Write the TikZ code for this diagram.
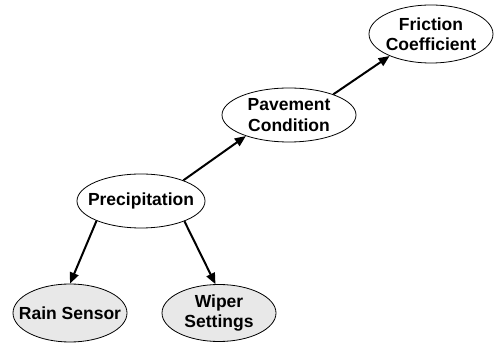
\documentclass[tikz,border=0pt]{standalone}
\usepackage{fontspec}
\setmainfont{Liberation Sans}
\usetikzlibrary{shapes.geometric,arrows.meta}
\definecolor{obsfill}{RGB}{232,232,232}
\tikzset{
  oval/.style={ellipse, draw=black, line width=0.8pt, fill=white, inner sep=0pt},
  observed/.style={oval, fill=obsfill},
  lbl/.style={align=center, inner sep=0pt, font=\fontsize{17.5}{20.5}\selectfont\bfseries},
  link/.style={line width=2pt, -{Triangle[length=11pt,width=9pt]}}
}
\begin{document}
\begin{tikzpicture}[x=1pt,y=1pt]
\useasboundingbox (0,0) rectangle (495,345);
\node[oval, minimum width=124pt, minimum height=58pt] (fc) at (431,311) {};
\node[lbl] (fcl) at (fc) {Friction\\Coefficient};
\node[oval, minimum width=134pt, minimum height=54pt] (pc) at (289,230) {};
\node[lbl] (pcl) at (pc) {Pavement\\Condition};
\node[oval, minimum width=128pt, minimum height=54pt] (pr) at (141,144) {};
\node[lbl] (prl) at (pr) {Precipitation};
\node[observed, minimum width=114pt, minimum height=58pt] (rs) at (70,32) {};
\node[lbl] (rsl) at (rs) {Rain Sensor};
\node[observed, minimum width=114pt, minimum height=57pt] (ws) at (219,32) {};
\node[lbl] (wsl) at (ws) {Wiper\\Settings};
\draw[link] (pr.204) -- (rs.90);
\draw[link] (pr.335) -- (ws.97);
\draw[link] (pr.26) -- (pc.206);
\draw[link] (pc.25) -- (fc.208);
\end{tikzpicture}
\end{document}
